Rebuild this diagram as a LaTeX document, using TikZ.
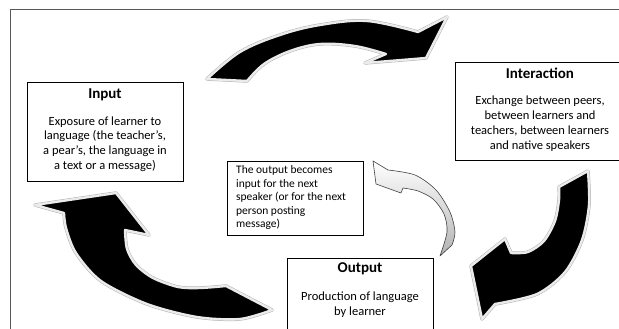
\documentclass[tikz,border=0pt]{standalone}
\usepackage{fontspec}
\setmainfont{Carlito}
\usetikzlibrary{positioning}

\begin{document}
\begin{tikzpicture}[x=1pt, y=-1pt,
    box/.style={draw, line width=0.8pt, inner sep=0pt},
    ttl/.style={font=\fontsize{15}{18}\selectfont\bfseries, inner sep=0pt},
    txt/.style={font=\fontsize{12.5}{14.8}\selectfont, align=center, inner sep=0pt},
    notetxt/.style={font=\fontsize{11.5}{13.5}\selectfont, align=left, inner sep=0pt, anchor=west},
    bigarrow/.style={fill=black, draw=black!8, line width=2.4pt, line join=round,
        preaction={draw=black!30, line width=3.4pt, line join=round}},
    smallarrow/.style={draw=black!75, line width=0.6pt, line join=round, top color=white, bottom color=black!30}
]
\useasboundingbox (0,0) rectangle (619,329);
\draw[black!65, line width=0.9pt] (10,335) |- (625,9);

% boxes
\node[box, minimum width=156pt, minimum height=99pt] (input) at (105,131.5) {};
\node[ttl] (inputttl) at (105,94.5) {Input};
\node[txt] (inputtxt) at (105,144) {Exposure of learner to\\language (the teacher’s,\\a pear’s, the language in\\a text or a message)};

\node[box, minimum width=170pt, minimum height=98pt] (inter) at (540,111) {};
\node[ttl] (interttl) at (540,73) {Interaction};
\node[txt] (intertxt) at (540,123.5) {Exchange between peers,\\between learners and\\teachers, between learners\\and native speakers};

\node[box, minimum width=146pt, minimum height=87pt] (output) at (360,301.5) {};
\node[ttl] (outputttl) at (360,269) {Output};
\node[txt] (outputtxt) at (360,304.5) {Production of language\\by learner};

\node[box, minimum width=136pt, minimum height=74pt] (note) at (295,198) {};
\node[notetxt] (notetxt) at (236,197.5) {The output  becomes\\input for the next\\speaker (or for the next\\person posting\\message)};

% cycle arrows
\path[bigarrow] (207,79) -- plot[smooth, tension=0.6] coordinates {(207,79) (240,52) (280,35) (320,25) (367,21) (418,32)} -- (447,17) -- (426,58) -- (365,63) -- plot[smooth, tension=0.6] coordinates {(386,54) (355,46) (320,44) (290,51) (264,64) (247,81)} -- cycle;
\path[bigarrow] (588,171) -- plot[smooth] coordinates {(588,171) (589,205) (582,240) (565,272) (537,294) (495,304)} -- (482,319) -- (471,266) -- (505,239) -- plot[smooth] coordinates {(511,253) (528,252) (544,241) (555,221) (559,200) (559,187)} -- cycle;
\path[bigarrow] (226,286) -- (272,310) -- plot[smooth] coordinates {(272,310) (240,319) (197,317) (147,304) (101,281) (76,253) (66,228) (64,213)} -- (35,205) -- (116,193) -- (149,235) -- plot[smooth] coordinates {(125,230) (127,249) (136,265) (153,278) (178,287) (200,288) (226,286)} -- cycle;

% feedback arrow
\path[smallarrow] (373,161) -- (388,170) -- plot[smooth] coordinates {(388,170) (415,175) (436,190) (450,212) (455,232) (452,245)} -- (440,256) -- plot[smooth] coordinates {(440,256) (447,232) (444,214) (433,199) (418,191) (403,188)} -- (401,193) -- (376,184) -- cycle;
\end{tikzpicture}
\end{document}
